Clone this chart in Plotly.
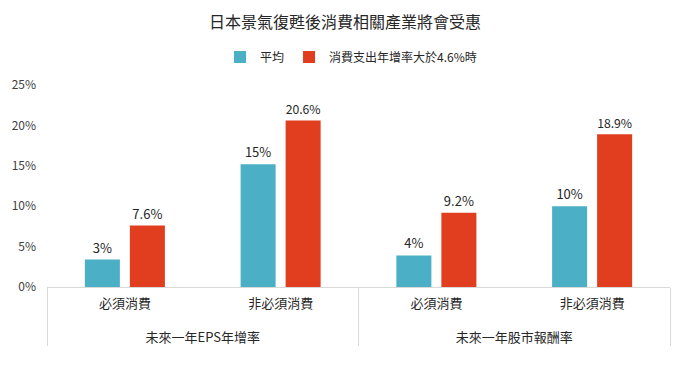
import plotly.graph_objects as go

groups = ["未來一年EPS年增率", "未來一年EPS年增率", "未來一年股市報酬率", "未來一年股市報酬率"]
subs = ["必須消費", "非必須消費", "必須消費", "非必須消費"]
avg_vals = [3.4, 15.2, 3.9, 10.0]
high_vals = [7.6, 20.6, 9.2, 18.9]
series_names = ["平均", "消費支出年增率大於4.6%時"]
title_text = "日本景氣復甦後消費相關產業將會受惠"
y_ticks = [0, 5, 10, 15, 20, 25]
y_tick_text = ["0%", "5%", "10%", "15%", "20%", "25%"]

FONT = "Noto Sans CJK TC"
TEAL = "#4BAFC6"
RED = "#E03E1E"

# group labels pushed one line down (matches the reference spacing)
group_labels = ["<br>" + g for g in groups]

fig = go.Figure()
fig.add_trace(go.Bar(
    x=[group_labels, subs], y=avg_vals, name=series_names[0],
    marker=dict(color=TEAL, line=dict(width=0)),
    text=avg_vals, texttemplate="%{y:.0f}%", textposition="outside",
    textfont=dict(family=FONT, size=13, color="#262626"), cliponaxis=False,
))
fig.add_trace(go.Bar(
    x=[group_labels, subs], y=high_vals, name=series_names[1],
    marker=dict(color=RED, line=dict(width=0)),
    text=high_vals, texttemplate="%{y:.1f}%", textposition="outside",
    textfont=dict(family=FONT, size=13, color="#262626"), cliponaxis=False,
))

fig.update_layout(
    width=682, height=365,
    margin=dict(l=47, r=12, t=85, b=78),
    paper_bgcolor="white", plot_bgcolor="white",
    font=dict(family=FONT, size=12, color="#404040"),
    title=dict(text=title_text, x=0.506, xanchor="center", y=0.94, yanchor="middle",
               font=dict(family=FONT, size=16, color="#262626")),
    barmode="group", bargap=0.422, bargroupgap=0.222,
    showlegend=True,
    legend=dict(orientation="h", x=0.488, xanchor="center", y=1.139, yanchor="middle",
                font=dict(family=FONT, size=12, color="#262626"),
                itemwidth=30, tracegroupgap=0),
)
fig.update_yaxes(range=[0, 25], tickvals=y_ticks, ticktext=y_tick_text,
                 showgrid=False, zeroline=False, showline=False,
                 tickfont=dict(family=FONT, size=12, color="#404040"),
                 ticks="", ticklabelstandoff=10)
fig.update_xaxes(type="multicategory", showline=True, linecolor="#D9D9D9", linewidth=1,
                 showdividers=True, dividercolor="#D9D9D9", dividerwidth=1,
                 tickfont=dict(family=FONT, size=13, color="#262626"),
                 ticks="", showgrid=False, ticklabelstandoff=4)

fig.write_html("out.html")
